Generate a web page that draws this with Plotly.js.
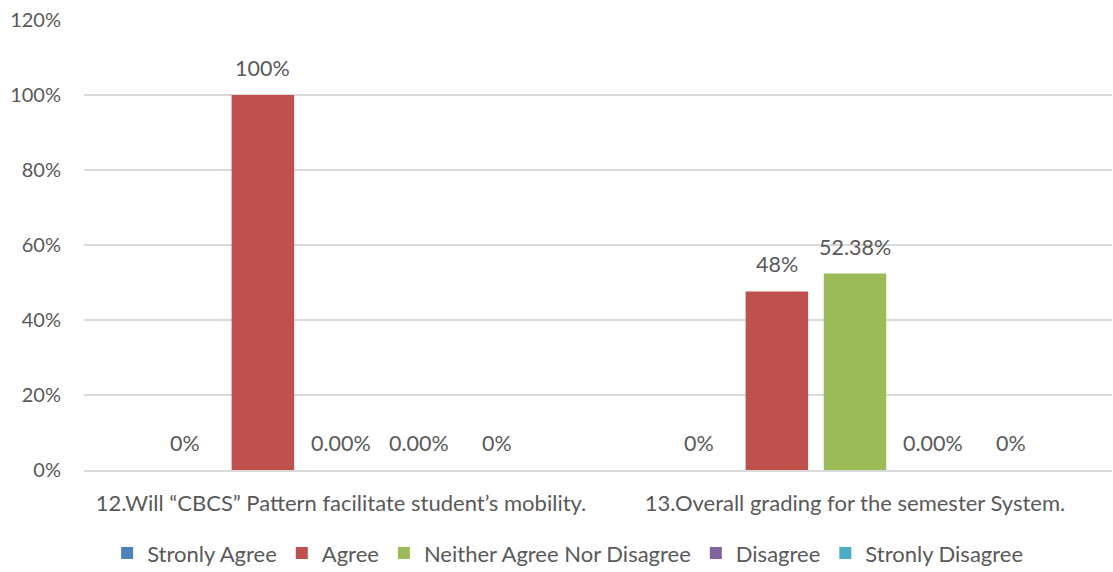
<!DOCTYPE html>
<html><head><meta charset="utf-8">
<script src="https://cdn.plot.ly/plotly-3.0.1.min.js"></script>
<style>html,body{margin:0;padding:0;background:#fff}</style>
</head><body>
<div id="chart" style="width:1113px;height:572px"></div>
<script>
const categories = ["12.Will \u201cCBCS\u201d Pattern facilitate student\u2019s mobility.", "13.Overall grading for the semester System."];
const seriesNames = ["Stronly Agree", "Agree", "Neither Agree Nor Disagree", "Disagree", "Stronly Disagree"];
const stronglyAgree = [0, 0];
const agree = [1.00, 0.4762];
const neither = [0, 0.5238];
const disagree = [0, 0];
const stronglyDisagree = [0, 0];
const labelsStronglyAgree = ["0%", "0%"];
const labelsAgree = ["100%", "48%"];
const labelsNeither = ["0.00%", "52.38%"];
const labelsDisagree = ["0.00%", "0.00%"];
const labelsStronglyDisagree = ["0%", "0%"];
const tickVals = [0, 0.2, 0.4, 0.6, 0.8, 1.0, 1.2];
const tickText = ["0%", "20%", "40%", "60%", "80%", "100%", "120%"];

const values = [stronglyAgree, agree, neither, disagree, stronglyDisagree];
const labels = [labelsStronglyAgree, labelsAgree, labelsNeither, labelsDisagree, labelsStronglyDisagree];
const colors = ["#4f81bd", "#c0504d", "#9bbb59", "#8064a2", "#4bacc6"];

const W = 1113, H = 572;
const margin = {l: 84, r: 1, t: 20, b: 102};
const bargap = 0.24, bargroupgap = 0.2;
const font = "Lato, 'Open Sans', sans-serif";
const txt = "#595959";

const traces = values.map((v, i) => ({
  type: "bar", name: seriesNames[i], x: categories, y: v,
  marker: {color: colors[i]}, hoverinfo: "skip"
}));

const plotW = W - margin.l - margin.r;
const catW = plotW / categories.length;
const slot = catW * (1 - bargap) / values.length;
const annotations = [];
values.forEach((v, i) => {
  v.forEach((val, j) => {
    annotations.push({
      x: categories[j], y: val, xref: "x", yref: "y",
      xshift: (i - (values.length - 1) / 2) * slot,
      yshift: 12, yanchor: "bottom", showarrow: false,
      text: labels[i][j], font: {family: font, size: 21.5, color: txt}
    });
  });
});

const layout = {
  width: W, height: H, margin: margin,
  paper_bgcolor: "#fff", plot_bgcolor: "#fff",
  barmode: "group", bargap: bargap, bargroupgap: bargroupgap,
  font: {family: font, size: 20, color: txt},
  xaxis: {
    type: "category", showgrid: false, zeroline: false, showline: true,
    linecolor: "#d9d9d9", linewidth: 1.5,
    ticks: "outside", ticklen: 13, tickcolor: "rgba(0,0,0,0)",
    tickfont: {family: font, size: 22, color: txt}
  },
  yaxis: {
    range: [0, 1.2], tickvals: tickVals, ticktext: tickText,
    showgrid: true, gridcolor: "#d9d9d9", gridwidth: 1.5, zeroline: false, showline: false,
    ticks: "outside", ticklen: 18, tickcolor: "rgba(0,0,0,0)",
    tickfont: {family: font, size: 20, color: txt}
  },
  showlegend: true,
  legend: {orientation: "h", x: 0.51, xanchor: "center", xref: "container",
    y: 0.033, yanchor: "middle", yref: "container",
    font: {family: font, size: 22, color: txt}, itemclick: false, traceorder: "normal",
    itemwidth: 30},
  annotations: annotations
};

Plotly.newPlot("chart", traces, layout, {displayModeBar: false, staticPlot: true});
</script>
</body></html>
